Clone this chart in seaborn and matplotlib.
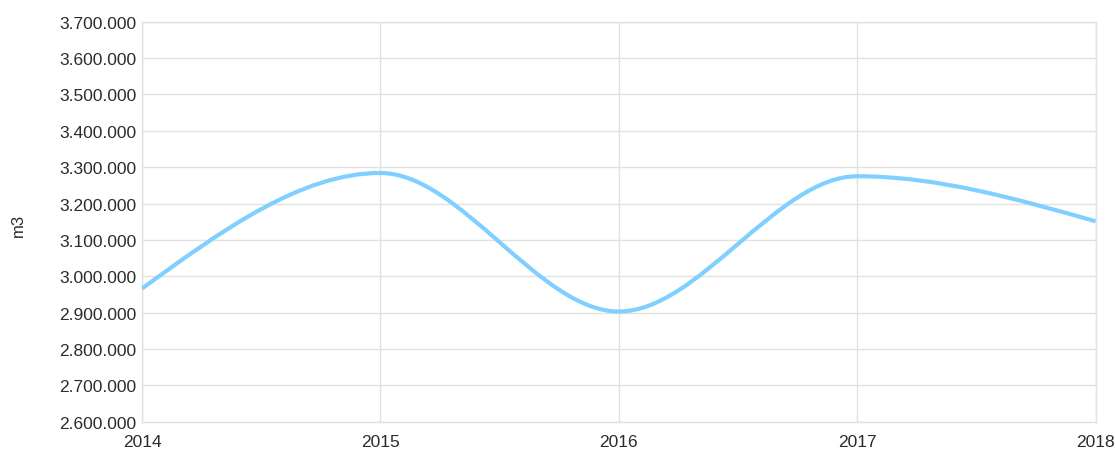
import numpy as np
import seaborn as sns
import matplotlib
matplotlib.use("Agg")
import matplotlib.pyplot as plt
from matplotlib.path import Path
from matplotlib.patches import PathPatch
from matplotlib.ticker import FuncFormatter

years = [2014, 2015, 2016, 2017, 2018]
volume_m3 = [2966000, 3284000, 2903000, 3275000, 3151000]
y_ticks = [2600000 + 100000 * i for i in range(12)]

LINE_COLOR = "#80d0ff"
GRID_COLOR = "#e1e1e1"
TEXT_COLOR = "#2b2b2b"


def monotone_path(xs, ys):
    # monotone cubic (d3 curveMonotoneX style) as bezier segments
    xs = np.asarray(xs, float)
    ys = np.asarray(ys, float)
    n = len(xs)
    h = np.diff(xs)
    s = np.diff(ys) / h
    t = np.zeros(n)
    for i in range(1, n - 1):
        p = (s[i - 1] * h[i] + s[i] * h[i - 1]) / (h[i - 1] + h[i])
        t[i] = (np.sign(s[i - 1]) + np.sign(s[i])) * min(abs(s[i - 1]), abs(s[i]), 0.5 * abs(p))
    t[0] = (3 * s[0] - t[1]) / 2
    t[-1] = (3 * s[-1] - t[-2]) / 2
    verts = [(xs[0], ys[0])]
    codes = [Path.MOVETO]
    for i in range(n - 1):
        dx = h[i] / 3
        verts += [(xs[i] + dx, ys[i] + dx * t[i]),
                  (xs[i + 1] - dx, ys[i + 1] - dx * t[i + 1]),
                  (xs[i + 1], ys[i + 1])]
        codes += [Path.CURVE4] * 3
    return Path(verts, codes)


sns.set_theme(style="whitegrid", rc={
    "grid.color": GRID_COLOR,
    "grid.linewidth": 1.0,
    "axes.edgecolor": GRID_COLOR,
    "axes.linewidth": 1.0,
})
plt.rcParams["font.family"] = ["Liberation Sans", "DejaVu Sans"]

fig = plt.figure(figsize=(11.15, 4.52), dpi=100)
ax = fig.add_axes([142 / 1115, 1 - 422.7 / 452, (1095.7 - 142) / 1115, 400 / 452])

patch = PathPatch(monotone_path(years, volume_m3), facecolor="none",
                  edgecolor=LINE_COLOR, linewidth=3.0, capstyle="butt", zorder=3)
ax.add_patch(patch)

ax.set_xlim(years[0], years[-1])
ax.set_ylim(y_ticks[0], y_ticks[-1])
ax.set_xticks(years)
ax.set_xticklabels([str(y) for y in years])
ax.set_yticks(y_ticks)
ax.yaxis.set_major_formatter(FuncFormatter(lambda v, _: f"{v:,.0f}".replace(",", ".")))
ax.tick_params(axis="both", length=0, labelsize=12.5, colors=TEXT_COLOR)
ax.tick_params(axis="x", pad=9)
ax.tick_params(axis="y", pad=4)
for sp in ax.spines.values():
    sp.set_color(GRID_COLOR)

fig.text(18 / 1115, 1 - 225 / 452, "m3", rotation=90, ha="center", va="center",
         fontsize=12, color=TEXT_COLOR)

fig.savefig("out.png", dpi=100)
